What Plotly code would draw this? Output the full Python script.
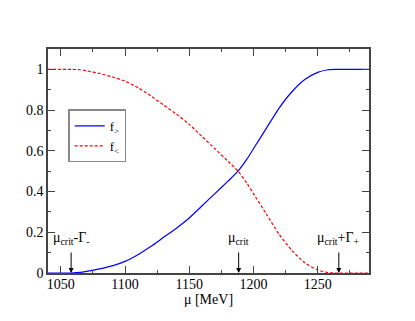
import plotly.graph_objects as go

# Data
mu_gt = [1040, 1058, 1065, 1070, 1080, 1090, 1100, 1110, 1120, 1130, 1140, 1150, 1160,
         1170, 1180, 1188, 1195, 1200, 1210, 1220, 1230, 1240, 1250, 1258, 1264, 1290]
f_gt = [0.0, 0.0, 0.003, 0.008, 0.02, 0.035, 0.057, 0.09, 0.13, 0.175, 0.22, 0.27, 0.33,
        0.39, 0.45, 0.50, 0.56, 0.61, 0.71, 0.81, 0.89, 0.95, 0.985, 0.998, 1.0, 1.0]

mu_lt = [1040, 1058, 1065, 1070, 1080, 1090, 1100, 1110, 1120, 1130, 1140, 1150, 1160,
         1170, 1180, 1188, 1195, 1200, 1210, 1220, 1230, 1240, 1250, 1258, 1263, 1290]
f_lt = [1.0, 1.0, 0.998, 0.993, 0.98, 0.963, 0.942, 0.91, 0.87, 0.825, 0.78, 0.73, 0.67,
        0.61, 0.55, 0.50, 0.44, 0.39, 0.29, 0.19, 0.11, 0.05, 0.015, 0.002, 0.0, 0.0]

x_ticks = [1050, 1100, 1150, 1200, 1250]
y_ticks = [0, 0.2, 0.4, 0.6, 0.8, 1]
y_tick_labels = ["0", "0.2", "0.4", "0.6", "0.8", "1"]

marker_mu = [1058, 1188.5, 1266.5]
marker_labels = ["μ<sub>crit</sub>-Γ<sub>-</sub>", "μ<sub>crit</sub>", "μ<sub>crit</sub>+Γ<sub>+</sub>"]

FONT = "Liberation Serif"
AX = "#444444"

fig = go.Figure()
fig.add_trace(go.Scatter(x=mu_gt, y=f_gt, mode="lines", name="f<sub>&gt;</sub>",
                         line=dict(color="#0000ff", width=1.2, shape="spline", smoothing=0.6)))
fig.add_trace(go.Scatter(x=mu_lt, y=f_lt, mode="lines", name="f<sub>&lt;</sub>",
                         line=dict(color="#ff0000", width=1.2, dash="3px,2px", shape="spline", smoothing=0.6)))

for m, lab in zip(marker_mu, marker_labels):
    fig.add_annotation(x=m, y=0, xref="x", yref="y", text="", showarrow=True,
                       ax=0, ay=-22, arrowhead=2, arrowsize=1, arrowwidth=1,
                       arrowcolor="black")
    fig.add_annotation(x=m, y=0, xref="x", yref="y", text=lab, showarrow=False,
                       yanchor="bottom", yshift=24, xanchor="center",
                       font=dict(family=FONT, size=14, color="black"))

axis_common = dict(showline=True, linecolor=AX, linewidth=1.5, mirror="ticks",
                   ticks="inside", ticklen=7, tickcolor=AX, tickwidth=1,
                   showgrid=False, zeroline=False,
                   tickfont=dict(family=FONT, size=14, color="black"))

fig.update_xaxes(range=[1040, 1290], tickvals=x_ticks, ticklabelstandoff=-3,
                 minor=dict(dtick=25, tick0=1050, ticklen=3, ticks="inside", tickcolor=AX),
                 title=dict(text="μ [MeV]", font=dict(family=FONT, size=14, color="black"), standoff=0),
                 **axis_common)
fig.update_yaxes(range=[0, 1.1], tickvals=y_ticks, ticktext=y_tick_labels,
                 minor=dict(dtick=0.1, tick0=0, ticklen=3, ticks="inside", tickcolor=AX),
                 **axis_common)

fig.update_layout(
    width=407, height=313,
    margin=dict(l=40, r=46, t=41, b=48, pad=0),
    paper_bgcolor="white", plot_bgcolor="white",
    showlegend=True,
    legend=dict(x=0.063, y=0.73, xanchor="left", yanchor="top",
                bordercolor="#888888", borderwidth=1.5, bgcolor="white",
                font=dict(family=FONT, size=13, color="black"),
                tracegroupgap=0, itemwidth=30),
)

fig.write_html("out.html")
